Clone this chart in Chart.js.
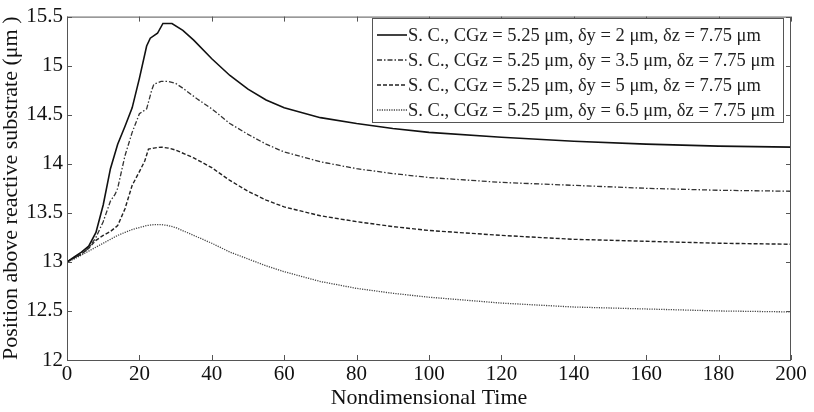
<!DOCTYPE html>
<html>
<head>
<meta charset="utf-8">
<script src="https://cdn.jsdelivr.net/npm/chart.js@4/dist/chart.umd.min.js"></script>
<style>
html,body{margin:0;padding:0;background:#fff;}
#wrap{width:814px;height:412px;position:relative;}
</style>
</head>
<body>
<div id="wrap"><canvas id="c" width="814" height="412"></canvas></div>
<script>
// ---- data ----
const seriesLabels = [
  "S. C., CGz = 5.25 \u03bcm, \u03b4y = 2 \u03bcm, \u03b4z = 7.75 \u03bcm",
  "S. C., CGz = 5.25 \u03bcm, \u03b4y = 3.5 \u03bcm, \u03b4z = 7.75 \u03bcm",
  "S. C., CGz = 5.25 \u03bcm, \u03b4y = 5 \u03bcm, \u03b4z = 7.75 \u03bcm",
  "S. C., CGz = 5.25 \u03bcm, \u03b4y = 6.5 \u03bcm, \u03b4z = 7.75 \u03bcm"
];

const time1   = [0, 2, 4, 6, 8, 10, 12, 14, 16, 18, 20, 22, 23, 25, 26.5, 29, 32, 35, 40, 45, 50, 55, 60, 70, 80, 90, 100, 120, 140, 160, 180, 200];
const values1 = [13.0, 13.05, 13.1, 13.16, 13.3, 13.58, 13.95, 14.2, 14.38, 14.57, 14.87, 15.2, 15.28, 15.33, 15.43, 15.43, 15.36, 15.26, 15.07, 14.9, 14.76, 14.65, 14.57, 14.47, 14.41, 14.36, 14.32, 14.27, 14.23, 14.2, 14.18, 14.17];

const time2   = [0, 2, 4, 6, 8, 10, 12, 13.3, 14, 16, 18, 20, 22, 23.4, 24, 26, 28, 30, 32, 36, 40, 45, 50, 55, 60, 70, 80, 90, 100, 120, 140, 160, 180, 200];
const values2 = [13.0, 13.04, 13.08, 13.14, 13.25, 13.41, 13.62, 13.69, 13.75, 14.08, 14.32, 14.51, 14.56, 14.75, 14.81, 14.84, 14.84, 14.82, 14.77, 14.66, 14.56, 14.41, 14.3, 14.2, 14.12, 14.02, 13.95, 13.9, 13.86, 13.81, 13.78, 13.75, 13.73, 13.72];

const time3   = [0, 2, 4, 6, 8, 10, 12, 14, 16, 18, 20, 21.5, 22.5, 24, 26, 28, 30, 35, 40, 45, 50, 55, 60, 70, 80, 90, 100, 120, 140, 160, 180, 200];
const values3 = [13.0, 13.04, 13.08, 13.14, 13.22, 13.27, 13.31, 13.37, 13.54, 13.78, 13.92, 14.03, 14.15, 14.16, 14.17, 14.16, 14.14, 14.06, 13.96, 13.83, 13.72, 13.63, 13.56, 13.47, 13.41, 13.36, 13.32, 13.27, 13.23, 13.21, 13.19, 13.18];

const time4   = [0, 2, 4, 6, 8, 10, 12, 14, 16, 18, 20, 22, 24, 26, 28, 30, 35, 40, 45, 50, 55, 60, 70, 80, 90, 100, 120, 140, 160, 180, 200];
const values4 = [13.0, 13.03, 13.07, 13.11, 13.15, 13.19, 13.23, 13.27, 13.3, 13.33, 13.35, 13.37, 13.38, 13.38, 13.37, 13.35, 13.27, 13.19, 13.1, 13.03, 12.96, 12.9, 12.8, 12.73, 12.68, 12.64, 12.58, 12.54, 12.52, 12.5, 12.49];

const xTicks = [0, 20, 40, 60, 80, 100, 120, 140, 160, 180, 200];
const yTicks = [12, 12.5, 13, 13.5, 14, 14.5, 15, 15.5];
const xTitle = "Nondimensional Time";
const yTitle = "Position above reactive substrate (\u03bcm )";

// ---- build ----
const FONT = "'Liberation Serif', 'Times New Roman', serif";
const pts = (t, v) => t.map((x, i) => ({x: x, y: v[i]}));
const styles = [
  {color: '#111', width: 1.6, dash: []},
  {color: '#333', width: 1.3, dash: [5, 2, 1.5, 2]},
  {color: '#222', width: 1.4, dash: [4, 2]},
  {color: '#444', width: 1.3, dash: [1.2, 1.2]}
];
const allT = [time1, time2, time3, time4];
const allV = [values1, values2, values3, values4];
const datasets = allT.map((t, i) => ({
  label: seriesLabels[i],
  data: pts(t, allV[i]),
  borderColor: styles[i].color,
  borderWidth: styles[i].width,
  borderDash: styles[i].dash,
  pointRadius: 0,
  fill: false,
  tension: 0
}));

const framePlugin = {
  id: 'frame',
  afterDatasetsDraw(chart) {
    const {ctx, chartArea: a, scales} = chart;
    ctx.save();
    ctx.strokeStyle = '#555';
    ctx.lineWidth = 1;
    ctx.setLineDash([]);
    ctx.strokeRect(a.left + 0.5, a.top + 0.5, a.right - a.left - 1, a.bottom - a.top);
    const L = 5;
    ctx.beginPath();
    xTicks.forEach(v => {
      const px = Math.round(scales.x.getPixelForValue(v)) + 0.5;
      ctx.moveTo(px, a.bottom); ctx.lineTo(px, a.bottom - L);
      ctx.moveTo(px, a.top); ctx.lineTo(px, a.top + L);
    });
    yTicks.forEach(v => {
      const py = Math.round(scales.y.getPixelForValue(v)) + 0.5;
      ctx.moveTo(a.left, py); ctx.lineTo(a.left + L, py);
      ctx.moveTo(a.right, py); ctx.lineTo(a.right - L, py);
    });
    ctx.stroke();
    ctx.restore();
  },
  afterDraw(chart) {
    const {ctx} = chart;
    const bx = 372, by = 18, bw = 411, bh = 104;
    ctx.save();
    ctx.fillStyle = '#fff';
    ctx.fillRect(bx, by, bw, bh);
    ctx.strokeStyle = '#555';
    ctx.lineWidth = 1;
    ctx.setLineDash([]);
    ctx.strokeRect(bx + 0.5, by + 0.5, bw, bh);
    ctx.font = "18.5px " + FONT;
    ctx.textBaseline = 'middle';
    ctx.fillStyle = '#222';
    chart.data.datasets.forEach((ds, i) => {
      const y = by + 17 + i * 25;
      ctx.beginPath();
      ctx.strokeStyle = ds.borderColor;
      ctx.lineWidth = ds.borderWidth;
      ctx.setLineDash(ds.borderDash);
      ctx.moveTo(bx + 5, y); ctx.lineTo(bx + 35, y);
      ctx.stroke();
      ctx.setLineDash([]);
      ctx.fillText(ds.label, bx + 36, y + 1);
    });
    ctx.restore();
  }
};

new Chart(document.getElementById('c'), {
  type: 'line',
  data: {datasets: datasets},
  options: {
    responsive: false,
    animation: false,
    layout: {padding: {left: 0, right: 23, top: 13, bottom: 0}},
    plugins: {legend: {display: false}, tooltip: {enabled: false}},
    scales: {
      x: {
        type: 'linear', min: 0, max: 200,
        afterFit: s => { s.height = 52; },
        afterBuildTicks: s => { s.ticks = xTicks.map(v => ({value: v})); },
        grid: {display: false, drawTicks: false},
        border: {display: false},
        ticks: {color: '#111', font: {family: FONT, size: 21}, padding: 2, maxRotation: 0, autoSkip: false,
                callback: v => String(v)},
        title: {display: true, text: xTitle, color: '#111', font: {family: FONT, size: 22, lineHeight: 1.2}, padding: {top: 0, bottom: 1}}
      },
      y: {
        type: 'linear', min: 12, max: 15.5,
        afterFit: s => { s.width = 67; },
        afterBuildTicks: s => { s.ticks = yTicks.map(v => ({value: v})); },
        grid: {display: false, drawTicks: false},
        border: {display: false},
        ticks: {color: '#111', font: {family: FONT, size: 21}, padding: 4, autoSkip: false,
                callback: v => String(v)},
        title: {display: true, text: yTitle, color: '#111', font: {family: FONT, size: 22, lineHeight: 1}, padding: {top: 0, bottom: 0}}
      }
    }
  },
  plugins: [framePlugin]
});
</script>
</body>
</html>
